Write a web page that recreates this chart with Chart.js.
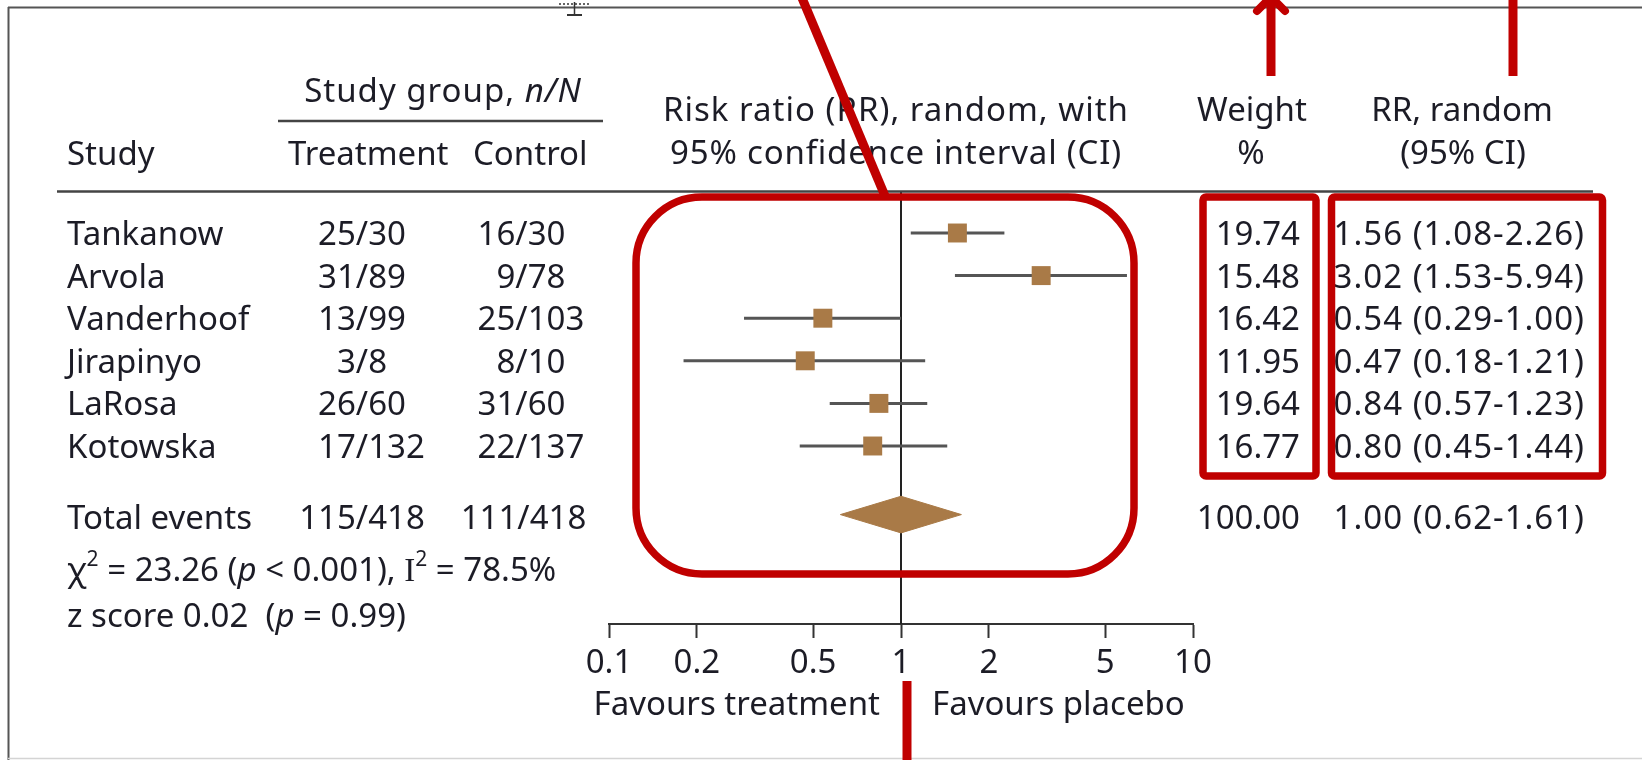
<!DOCTYPE html>
<html>
<head>
<meta charset="utf-8">
<title>Forest plot – risk ratio, random effects</title>
<script src="https://cdn.jsdelivr.net/npm/chart.js@4.4.1/dist/chart.umd.min.js"></script>
<style>
  html, body { margin: 0; padding: 0; background: #ffffff; }
  canvas { display: block; }
</style>
</head>
<body>
<canvas id="forest" width="1642" height="760"></canvas>
<script>
// ---- Study data ----
const studies         = ['Tankanow', 'Arvola', 'Vanderhoof', 'Jirapinyo', 'LaRosa', 'Kotowska'];
const treatmentEvents = ['25/30', '31/89', '13/99', '3/8', '26/60', '17/132'];
const controlEvents   = ['16/30', '9/78', '25/103', '8/10', '31/60', '22/137'];
const weights         = [19.74, 15.48, 16.42, 11.95, 19.64, 16.77];
const riskRatios      = [1.56, 3.02, 0.54, 0.47, 0.84, 0.80];
const ciLower         = [1.08, 1.53, 0.29, 0.18, 0.57, 0.45];
const ciUpper         = [2.26, 5.94, 1.00, 1.21, 1.23, 1.44];

// ---- Pooled estimate ----
const totalTreatment = '115/418';
const totalControl   = '111/418';
const totalWeight    = 100.00;
const pooledRR       = 1.00;
const pooledLower    = 0.62;
const pooledUpper    = 1.61;

// ---- Axis ticks ----
const xTicks = [0.1, 0.2, 0.5, 1, 2, 5, 10];

// ---- Layout ----
const W = 1642, H = 760;
const PLOT_LEFT = 609, PLOT_RIGHT = 1193, PLOT_TOP = 192, PLOT_BOTTOM = 624;
const AXIS_H = 60;
const ROW0_Y = 233, ROW_PITCH = 42.6;
const Y_MIN = -(ROW0_Y - PLOT_TOP) / ROW_PITCH;
const Y_MAX = (PLOT_BOTTOM - ROW0_Y) / ROW_PITCH;
const TOTAL_ROW = 6.61;
const DIAMOND_HALF = 0.43;

const INK = '#1c1c26';
const RULE = '#444444';
const BROWN = '#a97a47';
const CI_GREY = '#555555';
const RED = '#c00000';
const FAMILY = '"Noto Sans", "DejaVu Sans", sans-serif';
const FS = 33;
const f = (size, style) => (style ? style + ' ' : '') + size + 'px ' + FAMILY;

// Draw a sequence of differently styled text runs.
function drawRuns(ctx, runs, x, y, align) {
  let total = 0;
  runs.forEach(r => {
    ctx.font = r.font;
    r.w = ctx.measureText(r.t).width;
    total += r.w;
  });
  let cx = align === 'center' ? x - total / 2 : align === 'right' ? x - total : x;
  ctx.textAlign = 'left';
  runs.forEach(r => {
    ctx.font = r.font;
    ctx.fillText(r.t, cx, y + (r.dy || 0));
    cx += r.w;
  });
}

function txt(ctx, s, x, y, align, font, spacing) {
  ctx.font = font || f(FS);
  ctx.letterSpacing = spacing || '0px';
  ctx.textAlign = align || 'left';
  ctx.fillText(s, x, y);
  ctx.letterSpacing = '0px';
}

// n/N aligned on the slash
function fraction(ctx, s, slashX, y) {
  const [num, den] = s.split('/');
  ctx.font = f(FS);
  const sw = ctx.measureText('/').width;
  ctx.textAlign = 'right';
  ctx.fillText(num, slashX - sw / 2, y);
  ctx.textAlign = 'center';
  ctx.fillText('/', slashX, y);
  ctx.textAlign = 'left';
  ctx.fillText(den, slashX + sw / 2, y);
}

function line(ctx, x1, y1, x2, y2, color, width) {
  ctx.beginPath();
  ctx.moveTo(x1, y1);
  ctx.lineTo(x2, y2);
  ctx.strokeStyle = color;
  ctx.lineWidth = width;
  ctx.stroke();
}

const tablePlugin = {
  id: 'forestTable',
  afterDraw(chart) {
    const { ctx, scales: { y } } = chart;
    const CAP = 12;
    ctx.save();
    ctx.textBaseline = 'alphabetic';
    ctx.fillStyle = INK;
    ctx.lineCap = 'butt';

    // frame
    line(ctx, 8, 7.5, W, 7.5, '#555', 2);
    line(ctx, 8.5, 7, 8.5, H, '#555', 2);
    line(ctx, 8, 758.5, W, 758.5, '#d4d4d4', 1.5);

    // header
    ctx.letterSpacing = '1px';
    drawRuns(ctx, [
      { t: 'Study group, ', font: f(FS) },
      { t: 'n/N', font: f(FS, 'italic') }
    ], 443, 102, 'center');
    ctx.letterSpacing = '0px';
    line(ctx, 278, 121, 603, 121, RULE, 2.5);
    txt(ctx, 'Study', 67, 165);
    txt(ctx, 'Treatment', 288, 165);
    txt(ctx, 'Control', 473, 165);
    txt(ctx, 'Risk ratio (RR), random, with', 896, 121, 'center', null, '1px');
    txt(ctx, '95% confidence interval (CI)', 896, 164, 'center', null, '0.8px');
    txt(ctx, 'Weight', 1252, 121, 'center');
    txt(ctx, '%', 1251, 164, 'center');
    txt(ctx, 'RR, random', 1462, 121, 'center');
    txt(ctx, '(95% CI)', 1463, 164, 'center');
    line(ctx, 57, 191.5, 1593, 191.5, RULE, 2.5);

    // study rows
    studies.forEach((name, i) => {
      const by = y.getPixelForValue(i) + CAP;
      txt(ctx, name, 67, by);
      fraction(ctx, treatmentEvents[i], 362, by);
      fraction(ctx, controlEvents[i], 521.5, by);
      txt(ctx, weights[i].toFixed(2), 1300, by, 'right');
      txt(ctx, riskRatios[i].toFixed(2) + ' (' + ciLower[i].toFixed(2) + '-' + ciUpper[i].toFixed(2) + ')', 1585, by, 'right', null, '1px');
    });

    // pooled row
    const ty = y.getPixelForValue(TOTAL_ROW) + CAP + 2;
    txt(ctx, 'Total events', 67, ty);
    txt(ctx, totalTreatment, 362, ty, 'center');
    txt(ctx, totalControl, 523.5, ty, 'center');
    txt(ctx, totalWeight.toFixed(2), 1300, ty, 'right');
    txt(ctx, pooledRR.toFixed(2) + ' (' + pooledLower.toFixed(2) + '-' + pooledUpper.toFixed(2) + ')', 1585, ty, 'right', null, '1px');

    // heterogeneity and overall effect
    drawRuns(ctx, [
      { t: '\u03C7', font: f(FS) },
      { t: '2', font: f(21), dy: -15 },
      { t: ' = 23.26 (', font: f(FS) },
      { t: 'p', font: f(FS, 'italic') },
      { t: ' < 0.001), ', font: f(FS) },
      { t: 'I', font: '33px "Liberation Serif", serif' },
      { t: '2', font: f(21), dy: -15 },
      { t: ' = 78.5%', font: f(FS) }
    ], 67, 581, 'left');
    drawRuns(ctx, [
      { t: 'z score 0.02  (', font: f(FS) },
      { t: 'p', font: f(FS, 'italic') },
      { t: ' = 0.99)', font: f(FS) }
    ], 67, 627, 'left');

    // axis captions
    txt(ctx, 'Favours treatment', 880, 715, 'right');
    txt(ctx, 'Favours placebo', 932, 715, 'left');

    // cursor mark on the top edge
    ctx.setLineDash([2, 2]);
    line(ctx, 559, 4, 590, 4, '#333', 1.5);
    ctx.setLineDash([]);
    line(ctx, 574.5, 2, 574.5, 15, '#333', 1.5);
    line(ctx, 567, 15, 582, 15, '#333', 2);

    // highlight annotations
    ctx.strokeStyle = RED;
    ctx.lineJoin = 'round';
    ctx.lineWidth = 7.5;
    ctx.beginPath();
    ctx.roundRect(636, 197, 1134 - 636, 574 - 197, 66);
    ctx.stroke();
    ctx.beginPath();
    ctx.roundRect(1203, 197, 1316 - 1203, 476 - 197, 3);
    ctx.stroke();
    ctx.beginPath();
    ctx.roundRect(1331.5, 197, 1602.5 - 1331.5, 476 - 197, 3);
    ctx.stroke();

    line(ctx, 802, -2, 885, 196, RED, 9);
    line(ctx, 1271, 76, 1271, 0, RED, 9);
    ctx.lineCap = 'round';
    ctx.beginPath();
    ctx.moveTo(1257, 11);
    ctx.lineTo(1271, -3);
    ctx.lineTo(1285, 11);
    ctx.strokeStyle = RED;
    ctx.lineWidth = 8;
    ctx.stroke();
    ctx.lineCap = 'butt';
    line(ctx, 1513, 0, 1513, 76, RED, 9);
    line(ctx, 907, 681, 907, H, RED, 9);

    ctx.restore();
  }
};

// confidence-interval segments, one per study, separated by gaps
const ciSegments = [];
ciLower.forEach((lo, i) => {
  ciSegments.push({ x: lo, y: i }, { x: ciUpper[i], y: i }, { x: null, y: null });
});

new Chart(document.getElementById('forest'), {
  data: {
    datasets: [
      {
        type: 'scatter',
        label: 'Risk ratio',
        data: riskRatios.map((v, i) => ({ x: v, y: i })),
        pointStyle: 'rect',
        pointRadius: 13.4,
        pointBackgroundColor: BROWN,
        pointBorderWidth: 0,
        order: 0
      },
      {
        type: 'line',
        label: 'Pooled (upper half)',
        data: [
          { x: pooledLower, y: TOTAL_ROW },
          { x: pooledRR, y: TOTAL_ROW - DIAMOND_HALF },
          { x: pooledUpper, y: TOTAL_ROW }
        ],
        borderColor: BROWN,
        borderWidth: 1,
        pointRadius: 0,
        fill: false,
        order: 1
      },
      {
        type: 'line',
        label: 'Pooled (lower half)',
        data: [
          { x: pooledLower, y: TOTAL_ROW },
          { x: pooledRR, y: TOTAL_ROW + DIAMOND_HALF },
          { x: pooledUpper, y: TOTAL_ROW }
        ],
        borderColor: BROWN,
        borderWidth: 1,
        pointRadius: 0,
        backgroundColor: BROWN,
        fill: '-1',
        order: 1
      },
      {
        type: 'line',
        label: '95% CI',
        data: ciSegments,
        borderColor: CI_GREY,
        borderWidth: 3,
        borderCapStyle: 'butt',
        pointRadius: 0,
        spanGaps: false,
        fill: false,
        order: 2
      },
      {
        type: 'line',
        label: 'No effect',
        data: [{ x: 1, y: Y_MIN }, { x: 1, y: Y_MAX }],
        borderColor: '#222222',
        borderWidth: 2,
        pointRadius: 0,
        fill: false,
        order: 3
      }
    ]
  },
  options: {
    responsive: false,
    animation: false,
    events: [],
    layout: {
      padding: { left: PLOT_LEFT, right: W - PLOT_RIGHT, top: PLOT_TOP, bottom: H - PLOT_BOTTOM - AXIS_H }
    },
    plugins: { legend: { display: false }, tooltip: { enabled: false } },
    scales: {
      x: {
        type: 'logarithmic',
        position: 'bottom',
        min: 0.1,
        max: 10,
        offset: false,
        afterBuildTicks: s => { s.ticks = xTicks.map(v => ({ value: v })); },
        afterFit: s => { s.height = AXIS_H; },
        grid: { drawOnChartArea: false, drawTicks: true, tickLength: 14, tickColor: '#333', tickWidth: 2 },
        border: { display: true, color: '#333', width: 2 },
        ticks: {
          font: { family: 'Noto Sans', size: FS },
          color: INK,
          padding: 6,
          maxRotation: 0,
          autoSkip: false,
          callback: v => String(v)
        }
      },
      y: { type: 'linear', reverse: true, min: Y_MIN, max: Y_MAX, offset: false, display: false }
    }
  },
  plugins: [tablePlugin]
});
</script>
</body>
</html>
